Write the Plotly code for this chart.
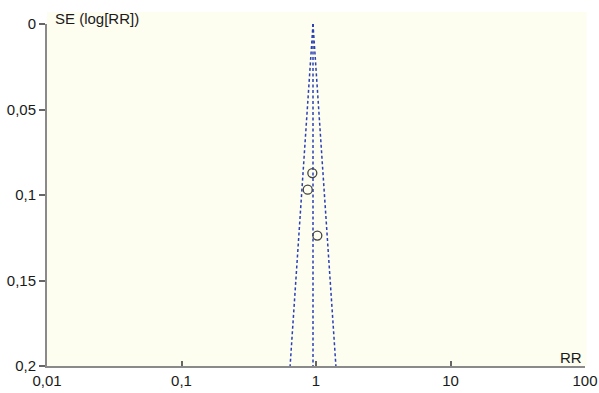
import numpy as np
import plotly.graph_objects as go

# Data
study_rr = [0.939, 0.868, 1.023]
study_se = [0.0872, 0.0969, 0.1237]
pooled_rr = 0.95
se_limits = [0.0, 0.2]

x_tickvals = [0.01, 0.1, 1, 10, 100]
x_ticktext = ["0,01", "0,1", "1", "10", "100"]
y_tickvals = [0, 0.05, 0.1, 0.15, 0.2]
y_ticktext = ["0", "0,05", "0,1", "0,15", "0,2"]

z = 1.96
lo = [float(np.exp(np.log(pooled_rr) - z * s)) for s in se_limits]
hi = [float(np.exp(np.log(pooled_rr) + z * s)) for s in se_limits]

line_color = "#2b40b5"
dash = "3px,2.5px"

fig = go.Figure()
for xs in (lo, hi, [pooled_rr, pooled_rr]):
    fig.add_trace(go.Scatter(x=xs, y=se_limits, mode="lines",
                             line=dict(color=line_color, width=1.5, dash=dash),
                             hoverinfo="skip"))
fig.add_trace(go.Scatter(x=study_rr, y=study_se, mode="markers",
                         marker=dict(symbol="circle-open", size=9,
                                     color="#444444", line=dict(width=1.3))))

font = dict(family="Liberation Sans, Arial, Helvetica, sans-serif", size=15, color="#1a1a1a")

fig.update_layout(
    width=599, height=393,
    margin=dict(l=47, r=14, t=24, b=27, autoexpand=False),
    paper_bgcolor="white",
    plot_bgcolor="rgba(0,0,0,0)",
    showlegend=False,
    font=font,
    xaxis=dict(type="log", range=[-2, 2], tickvals=x_tickvals, ticktext=x_ticktext,
               showgrid=False, zeroline=False, showline=True, linecolor="#8a8a8a",
               linewidth=2, ticks="inside", ticklen=5, tickcolor="#666666",
               tickwidth=1.5, tickfont=font, automargin=False),
    yaxis=dict(range=[0.2, 0], tickvals=y_tickvals, ticktext=y_ticktext,
               showgrid=False, zeroline=False, showline=True, linecolor="#8a8a8a",
               linewidth=2, ticks="outside", ticklen=6, tickcolor="#666666",
               tickwidth=1.5, tickfont=font, automargin=False),
    shapes=[dict(type="rect", xref="paper", yref="paper", x0=0, x1=1.003,
                 y0=0, y1=1.035, fillcolor="#fdfdf0", line=dict(width=0),
                 layer="below")],
    annotations=[
        dict(text="SE (log[RR])", xref="paper", yref="paper", x=0.012, y=1.0175,
             xanchor="left", yanchor="middle", showarrow=False, font=font),
        dict(text="RR", xref="paper", yref="paper", x=0.999, y=0.025,
             xanchor="right", yanchor="middle", showarrow=False, font=font),
    ],
)

fig.write_html("out.html",
               config={"displayModeBar": False},
               post_script="document.body.style.margin='0';document.body.style.overflow='hidden';")
